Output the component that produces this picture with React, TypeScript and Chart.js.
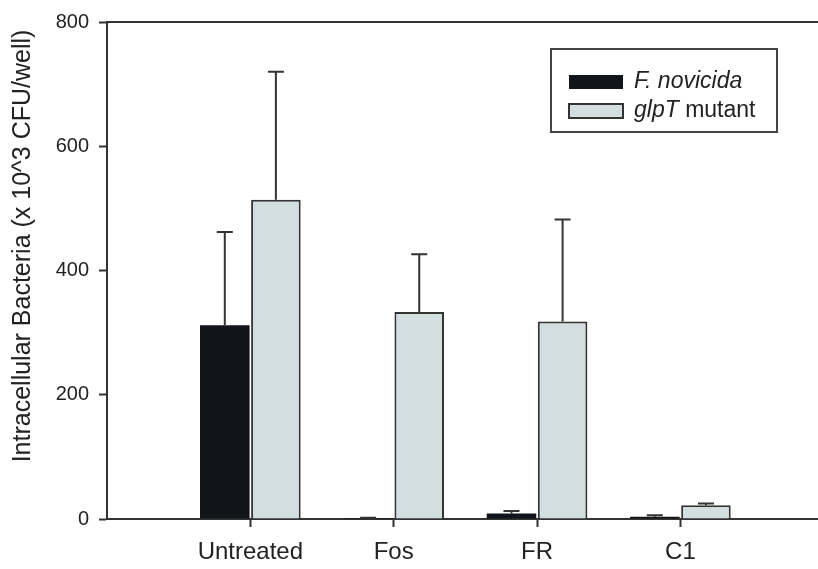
import React, { useEffect, useRef } from "react";
import { Chart, registerables } from "chart.js";

Chart.register(...registerables);

const CATEGORIES = ["Untreated", "Fos", "FR", "C1"];
const NOVICIDA = [312, 1.5, 9, 3.5];
const NOVICIDA_ERR = [150, 0.5, 4, 2.5];
const GLPT = [514, 333, 318, 22];
const GLPT_ERR = [206, 93, 164, 3];
const Y_TICKS = [0, 200, 400, 600, 800];
const Y_TITLE = "Intracellular Bacteria (x 10^3 CFU/well)";

const FONT = 'Arial, "Liberation Sans", sans-serif';
const DARK = "#333333";
const TEXT = "#222222";
const BLACK_FILL = "#111418";
const GRAY_FILL = "#d2dee0";

const errorBarPlugin = {
  id: "errorBars",
  afterDatasetsDraw(chart: any) {
    const ctx = chart.ctx;
    const yScale = chart.scales.y;
    chart.data.datasets.forEach((ds: any, di: number) => {
      const meta = chart.getDatasetMeta(di);
      meta.data.forEach((bar: any, i: number) => {
        const v = ds.data[i].y;
        const e = ds.errors[i];
        const yTop = yScale.getPixelForValue(v + e);
        ctx.save();
        ctx.strokeStyle = DARK;
        ctx.lineWidth = 2;
        ctx.beginPath();
        ctx.moveTo(bar.x, bar.y);
        ctx.lineTo(bar.x, yTop);
        ctx.moveTo(bar.x - 8, yTop);
        ctx.lineTo(bar.x + 8, yTop);
        ctx.stroke();
        ctx.restore();
      });
    });
  },
};

const frameLegendPlugin = {
  id: "frameLegend",
  afterDraw(chart: any) {
    const ctx = chart.ctx;
    const a = chart.chartArea;
    ctx.save();
    // top frame line
    ctx.strokeStyle = DARK;
    ctx.lineWidth = 2;
    ctx.beginPath();
    ctx.moveTo(a.left - 1, a.top);
    ctx.lineTo(a.right, a.top);
    ctx.stroke();

    // y axis title
    ctx.save();
    ctx.translate(23, 246);
    ctx.rotate(-Math.PI / 2);
    ctx.fillStyle = TEXT;
    ctx.font = `25px ${FONT}`;
    ctx.textAlign = "center";
    ctx.textBaseline = "middle";
    ctx.fillText(Y_TITLE, 0, 0);
    ctx.restore();

    // legend box
    const bx = 551, by = 49, bw = 226, bh = 83;
    ctx.fillStyle = "#ffffff";
    ctx.fillRect(bx, by, bw, bh);
    ctx.strokeStyle = "#444444";
    ctx.lineWidth = 2;
    ctx.strokeRect(bx, by, bw, bh);

    // swatches
    ctx.fillStyle = BLACK_FILL;
    ctx.fillRect(569, 75, 54, 14);
    ctx.fillStyle = GRAY_FILL;
    ctx.fillRect(569, 104, 54, 14);
    ctx.strokeStyle = DARK;
    ctx.lineWidth = 2;
    ctx.strokeRect(569, 104, 54, 14);

    ctx.fillStyle = TEXT;
    ctx.textBaseline = "middle";
    ctx.textAlign = "left";
    ctx.font = `italic 23px ${FONT}`;
    ctx.fillText(chart.data.datasets[0].label, 634, 82);
    const parts = chart.data.datasets[1].labelParts;
    ctx.font = `italic 23px ${FONT}`;
    ctx.fillText(parts[0], 634, 111);
    const w = ctx.measureText(parts[0]).width;
    ctx.font = `23px ${FONT}`;
    ctx.fillText(parts[1], 634 + w, 111);
    ctx.restore();
  },
};

export default function App() {
  const ref = useRef<HTMLCanvasElement | null>(null);

  useEffect(() => {
    if (!ref.current) return;
    const chart = new Chart(ref.current, {
      type: "bar",
      data: {
        datasets: [
          {
            label: "F. novicida",
            data: NOVICIDA.map((v, i) => ({ x: i + 1, y: v })),
            errors: NOVICIDA_ERR,
            backgroundColor: BLACK_FILL,
            borderColor: BLACK_FILL,
            borderWidth: 0,
            categoryPercentage: 0.713,
            barPercentage: 0.97,
          } as any,
          {
            label: "glpT mutant",
            labelParts: ["glpT", " mutant"],
            data: GLPT.map((v, i) => ({ x: i + 1, y: v })),
            errors: GLPT_ERR,
            backgroundColor: GRAY_FILL,
            borderColor: DARK,
            borderWidth: 2,
            categoryPercentage: 0.713,
            barPercentage: 0.97,
          } as any,
        ],
      },
      options: {
        animation: false,
        responsive: true,
        maintainAspectRatio: false,
        layout: { padding: { top: 19, right: 0, left: 0, bottom: 0 } },
        plugins: {
          legend: { display: false },
          tooltip: { enabled: false },
        },
        scales: {
          x: {
            type: "linear",
            min: 0,
            max: 4.96,
            offset: false,
            afterBuildTicks: (axis: any) => {
              axis.ticks = CATEGORIES.map((_, i) => ({ value: i + 1 }));
            },
            afterFit: (axis: any) => {
              axis.height = 50;
            },
            ticks: {
              autoSkip: false,
              maxRotation: 0,
              padding: 11,
              color: TEXT,
              font: { family: FONT, size: 24 },
              callback: (v: any) => CATEGORIES[Number(v) - 1] ?? "",
            },
            grid: {
              offset: false,
              drawOnChartArea: false,
              drawTicks: true,
              tickLength: 8,
              tickWidth: 2,
              tickColor: DARK,
            },
            border: { display: true, color: DARK, width: 2 },
          },
          y: {
            min: 0,
            max: 800,
            afterBuildTicks: (axis: any) => {
              axis.ticks = Y_TICKS.map((v) => ({ value: v }));
            },
            afterFit: (axis: any) => {
              axis.width = 107;
            },
            ticks: {
              padding: 10,
              color: TEXT,
              font: { family: FONT, size: 20 },
            },
            grid: {
              drawOnChartArea: false,
              drawTicks: true,
              tickLength: 8,
              tickWidth: 2,
              tickColor: DARK,
            },
            border: { display: true, color: DARK, width: 2 },
          },
        },
      },
      plugins: [errorBarPlugin, frameLegendPlugin],
    });
    return () => chart.destroy();
  }, []);

  return (
    <div
      style={{
        position: "absolute",
        left: 0,
        top: 0,
        width: 818,
        height: 569,
        background: "#ffffff",
      }}
    >
      <canvas ref={ref} />
    </div>
  );
}
